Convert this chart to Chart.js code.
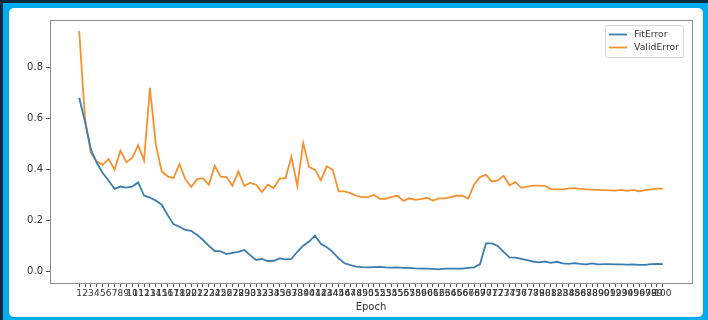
<!DOCTYPE html>
<html>
<head>
<meta charset="utf-8">
<script src="https://cdn.jsdelivr.net/npm/chart.js@4.4.1/dist/chart.umd.min.js"></script>
<style>
  html, body { margin: 0; padding: 0; }
  body { width: 708px; height: 320px; position: relative; overflow: hidden; background: #00aeef; }
  #edge { position: absolute; left: 0; top: 0; width: 708px; height: 320px; box-sizing: border-box;
          border-top: 3px solid #062a40; border-left: 3px solid #062a40; }
  #panel { position: absolute; left: 9px; top: 8px; width: 694px; height: 309px; background: #ffffff; border-radius: 5px; }
  #wrap { position: absolute; left: 0; top: 0; width: 708px; height: 320px; }
</style>
</head>
<body>
<div id="edge"></div>
<div id="panel"></div>
<div id="wrap"><canvas id="c" width="708" height="320"></canvas></div>
<script>
// Training curves per epoch
const epochs = Array.from({ length: 100 }, (_, i) => i + 1);

const fitError = [
  0.680, 0.585, 0.477, 0.425, 0.386, 0.356, 0.324, 0.333, 0.329, 0.333,
  0.349, 0.298, 0.290, 0.278, 0.262, 0.222, 0.186, 0.176, 0.164, 0.160,
  0.144, 0.124, 0.101, 0.081, 0.080, 0.069, 0.074, 0.078, 0.085, 0.065,
  0.046, 0.050, 0.042, 0.043, 0.052, 0.048, 0.050, 0.078, 0.102, 0.118,
  0.141, 0.109, 0.096, 0.078, 0.052, 0.033, 0.026, 0.020, 0.018, 0.017,
  0.018, 0.019, 0.017, 0.016, 0.017, 0.015, 0.015, 0.013, 0.012, 0.012,
  0.011, 0.009, 0.012, 0.012, 0.012, 0.012, 0.015, 0.017, 0.030, 0.111,
  0.111, 0.101, 0.078, 0.056, 0.055, 0.050, 0.045, 0.040, 0.037, 0.040,
  0.035, 0.039, 0.033, 0.031, 0.034, 0.031, 0.029, 0.033, 0.029, 0.030,
  0.030, 0.029, 0.029, 0.028, 0.029, 0.027, 0.027, 0.030, 0.031, 0.030
];

const validError = [
  0.941, 0.595, 0.464, 0.431, 0.418, 0.441, 0.399, 0.473, 0.428, 0.445,
  0.494, 0.435, 0.719, 0.497, 0.392, 0.373, 0.366, 0.421, 0.362, 0.331,
  0.362, 0.366, 0.340, 0.414, 0.372, 0.370, 0.336, 0.392, 0.336, 0.347,
  0.340, 0.311, 0.340, 0.327, 0.364, 0.366, 0.449, 0.336, 0.504, 0.409,
  0.399, 0.357, 0.412, 0.399, 0.314, 0.314, 0.307, 0.297, 0.292, 0.292,
  0.300, 0.285, 0.285, 0.293, 0.297, 0.277, 0.287, 0.281, 0.284, 0.289,
  0.278, 0.287, 0.287, 0.292, 0.297, 0.297, 0.286, 0.341, 0.370, 0.379,
  0.353, 0.357, 0.375, 0.338, 0.350, 0.328, 0.333, 0.337, 0.337, 0.336,
  0.323, 0.322, 0.322, 0.326, 0.327, 0.324, 0.322, 0.321, 0.320, 0.319,
  0.318, 0.317, 0.320, 0.316, 0.320, 0.314, 0.319, 0.322, 0.325, 0.325
];

const yTicks = [0.0, 0.2, 0.4, 0.6, 0.8];
const seriesNames = ['FitError', 'ValidError'];
const xTitle = 'Epoch';

const FONT = '"DejaVu Sans", sans-serif';
const TEXT = '#333333';

// Axes box on all four sides plus a framed legend in the upper right
const boxAndLegend = {
  id: 'boxAndLegend',
  afterDatasetsDraw(chart) {
    const { ctx, chartArea: a } = chart;
    ctx.save();
    ctx.strokeStyle = '#8c8c8c';
    ctx.lineWidth = 1;
    ctx.strokeRect(Math.round(a.left) + 0.5, Math.round(a.top) + 0.5,
                   Math.round(a.right - a.left), Math.round(a.bottom - a.top));

    const bx = a.right - 87, by = a.top + 5, bw = 78, bh = 32;
    ctx.beginPath();
    ctx.roundRect(bx + 0.5, by + 0.5, bw, bh, 2);
    ctx.fillStyle = 'rgba(255,255,255,0.85)';
    ctx.fill();
    ctx.strokeStyle = '#d6d6d6';
    ctx.stroke();

    ctx.font = '9.3px ' + FONT;
    ctx.textBaseline = 'middle';
    ctx.textAlign = 'left';
    chart.data.datasets.forEach((ds, i) => {
      const y = by + 9.5 + i * 13;
      ctx.beginPath();
      ctx.moveTo(bx + 4, y);
      ctx.lineTo(bx + 22, y);
      ctx.strokeStyle = ds.borderColor;
      ctx.lineWidth = 1.8;
      ctx.stroke();
      ctx.fillStyle = TEXT;
      ctx.fillText(ds.label, bx + 29, y);
    });
    ctx.restore();
  }
};

const toPoints = arr => epochs.map((e, i) => ({ x: e, y: arr[i] }));

new Chart(document.getElementById('c'), {
  type: 'line',
  data: {
    datasets: [
      { label: seriesNames[0], data: toPoints(fitError), borderColor: '#3b7db1',
        borderWidth: 1.8, pointRadius: 0, tension: 0, fill: false },
      { label: seriesNames[1], data: toPoints(validError), borderColor: '#f5922f',
        borderWidth: 1.8, pointRadius: 0, tension: 0, fill: false }
    ]
  },
  options: {
    responsive: false,
    animation: false,
    events: [],
    layout: { padding: { top: 20, right: 16, bottom: 4, left: 0 } },
    plugins: { legend: { display: false }, tooltip: { enabled: false } },
    scales: {
      x: {
        type: 'linear',
        min: 1 - 4.95,
        max: 100 + 4.95,
        border: { display: false },
        grid: { display: true, drawOnChartArea: false, drawTicks: true, tickLength: 4, tickColor: '#555555' },
        afterBuildTicks: s => { s.ticks = epochs.map(v => ({ value: v })); },
        afterFit: s => { s.height = 33; },
        ticks: {
          autoSkip: false, maxRotation: 0, minRotation: 0, padding: 1,
          color: TEXT, font: { family: FONT, size: 9 },
          callback: v => String(v)
        },
        title: { display: true, text: xTitle, color: TEXT, font: { family: FONT, size: 10 },
                 padding: { top: 0, bottom: 3 } }
      },
      y: {
        type: 'linear',
        min: -0.044,
        max: 0.984,
        border: { display: false },
        grid: { display: true, drawOnChartArea: false, drawTicks: true, tickLength: 4, tickColor: '#555555' },
        afterBuildTicks: s => { s.ticks = yTicks.map(v => ({ value: v })); },
        afterFit: s => { s.width = 50; },
        ticks: {
          padding: 3, color: TEXT, font: { family: FONT, size: 10 },
          callback: v => v.toFixed(1)
        }
      }
    }
  },
  plugins: [boxAndLegend]
});
</script>
</body>
</html>
